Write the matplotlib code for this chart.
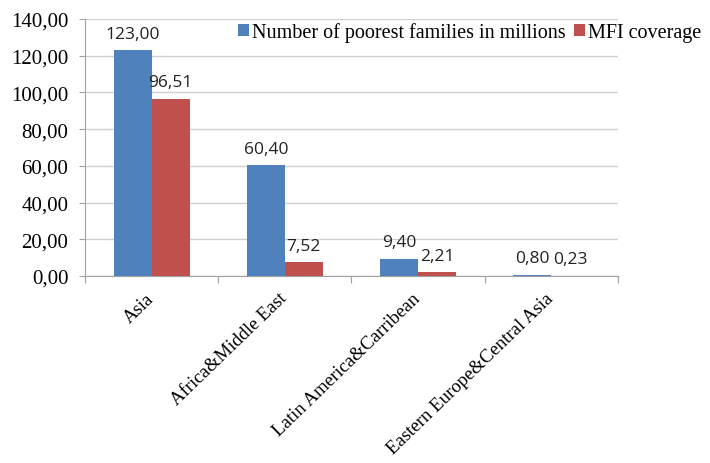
import numpy as np
import matplotlib.pyplot as plt
from matplotlib.ticker import FuncFormatter

regions = ["Asia", "Africa&Middle East", "Latin America&Carribean",
           "Eastern Europe&Central Asia"]
poorest = [123.00, 60.40, 9.40, 0.80]
mfi = [96.51, 7.52, 2.21, 0.23]
series_names = ["Number of poorest families in millions", "MFI coverage"]

blue = "#4F81BD"
red = "#C0504D"
serif = "Liberation Serif"
sans = "Open Sans"

fig = plt.figure(figsize=(7.1, 4.64), dpi=100)
ax = fig.add_axes([0.1197, 0.403, 0.7507, 0.554])

x = np.arange(len(regions))
w = 0.285
b1 = ax.bar(x - w / 2, poorest, w, color=blue, label=series_names[0], zorder=3)
b2 = ax.bar(x + w / 2, mfi, w, color=red, label=series_names[1], zorder=3)

# value labels with comma decimals
for bars, vals in ((b1, poorest), (b2, mfi)):
    for r, v in zip(bars, vals):
        ax.annotate(("%.2f" % v).replace(".", ","),
                    (r.get_x() + r.get_width() / 2, v),
                    xytext=(0, 6), textcoords="offset points",
                    ha="center", va="bottom", fontsize=12.5,
                    family=sans, color="#222222")

ax.set_ylim(0, 140)
ax.set_yticks(np.arange(0, 141, 20))
ax.yaxis.set_major_formatter(FuncFormatter(lambda v, p: ("%.2f" % v).replace(".", ",")))
ax.set_xlim(-0.5, len(regions) - 0.5)
ax.grid(axis="y", color="#d0d0d0", linewidth=1, zorder=0)

for s in ["top", "right"]:
    ax.spines[s].set_visible(False)
ax.spines["left"].set_color("#a0a0a0")
ax.spines["bottom"].set_color("#a0a0a0")

ax.set_xticks(np.arange(len(regions) + 1) - 0.5)
ax.set_xticklabels([])
ax.tick_params(axis="x", length=5, color="#a0a0a0")
ax.tick_params(axis="y", length=4, color="#a0a0a0", labelsize=15, pad=8)
for t in ax.get_yticklabels():
    t.set_family(serif)
ax.set_xticks(x, minor=True)
ax.set_xticklabels(regions, minor=True, rotation=44, ha="right", va="center",
                   rotation_mode="anchor", family=serif, fontsize=13.5)
ax.tick_params(axis="x", which="minor", length=0, pad=14)

fig.legend(loc="center right", bbox_to_anchor=(1.0, 0.929), ncol=2,
           frameon=False, prop={"family": serif, "size": 14.5},
           handlelength=0.55, handleheight=0.55, handletextpad=0.15,
           columnspacing=0.4, borderaxespad=0.05)

fig.savefig("out.png", dpi=100)
